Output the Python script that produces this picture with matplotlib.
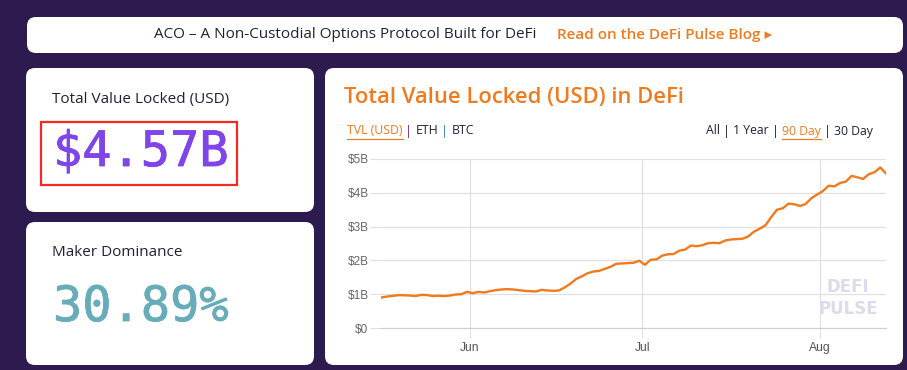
import matplotlib.pyplot as plt
import matplotlib.patheffects as pe
from matplotlib.patches import FancyBboxPatch, Rectangle
from matplotlib.lines import Line2D
from matplotlib.transforms import Affine2D
import pandas as pd

# TVL in billions USD, one point per day (90 day view)
start_date = "2020-05-16 12:00"
tvl = [0.90, 0.93, 0.95, 0.97, 0.97, 0.96, 0.945, 0.98, 0.975, 0.945,
       0.955, 0.945, 0.96, 0.99, 1.00, 1.07, 1.03, 1.07, 1.05, 1.09,
       1.12, 1.14, 1.15, 1.14, 1.12, 1.10, 1.09, 1.08, 1.13, 1.11,
       1.10, 1.11, 1.20, 1.31, 1.45, 1.53, 1.62, 1.67, 1.69, 1.75,
       1.81, 1.90, 1.91, 1.92, 1.93, 1.99, 1.87, 2.02, 2.03, 2.14,
       2.18, 2.19, 2.29, 2.32, 2.44, 2.42, 2.45, 2.51, 2.52, 2.51,
       2.59, 2.62, 2.63, 2.64, 2.71, 2.85, 2.94, 3.04, 3.28, 3.50,
       3.54, 3.68, 3.66, 3.61, 3.67, 3.84, 3.95, 4.05, 4.21, 4.19,
       4.29, 4.33, 4.50, 4.46, 4.41, 4.55, 4.61, 4.75, 4.57]
dates = pd.date_range(start_date, periods=len(tvl), freq="D")

month_ticks = pd.to_datetime(["2020-06-01", "2020-07-01", "2020-08-01"])
month_labels = ["Jun", "Jul", "Aug"]
y_ticks = [0, 1, 2, 3, 4, 5]
y_labels = ["$0", "$1B", "$2B", "$3B", "$4B", "$5B"]

tvl_value = "$4.57B"
maker_dom = "30.89%"

W, H = 907, 370
BG = "#2d1a4f"
ORANGE = "#f07a1e"
DARK = "#1e2238"
SANS = ["Open Sans", "DejaVu Sans"]

fig = plt.figure(figsize=(W / 100, H / 100), dpi=100, facecolor=BG)
# pixel coords, origin top-left
px = Affine2D().scale(1 / 100, -1 / 100).translate(0, H / 100) + fig.dpi_scale_trans


def card(x0, y0, x1, y1, r=9):
    fig.patches.append(FancyBboxPatch((x0, y0), x1 - x0, y1 - y0,
                                      boxstyle=f"round,pad=0,rounding_size={r}",
                                      transform=px, facecolor="white",
                                      edgecolor="none", zorder=-5))


def row(x, y, pieces, ha="left", size=8.8, family=SANS):
    r = fig.canvas.get_renderer()
    items = []
    for s, color, ul in pieces:
        t = fig.text(0, y, s, transform=px, color=color, fontsize=size,
                     va="center", ha="left", family=family)
        items.append((t, ul, t.get_window_extent(r).width))
    total = sum(w for _, _, w in items)
    cx = x - total if ha == "right" else x
    for t, ul, w in items:
        t.set_x(cx)
        if ul:
            fig.add_artist(Line2D([cx, cx + w], [y + 7.5, y + 7.5], transform=px,
                                  color=t.get_color(), lw=0.9))
        cx += w


# cards
card(27, 17, 903, 53)
card(26, 68, 314, 212)
card(26, 222, 314, 365)
card(325, 68, 903, 365)

# banner
fig.text(345, 35, "ACO \u2013 A Non-Custodial Options Protocol Built for DeFi",
         transform=px, ha="center", va="center", fontsize=11, color=DARK, family=SANS)
fig.text(557, 35, "Read on the DeFi Pulse Blog \u25b8", transform=px, ha="left",
         va="center", fontsize=11, color=ORANGE, fontweight="semibold", family=SANS)

# left cards
fig.text(52, 100, "Total Value Locked (USD)", transform=px, va="center",
         fontsize=11, color=DARK, family=SANS)
fig.patches.append(Rectangle((41, 122), 196, 63, transform=px, facecolor="none",
                             edgecolor="#f52a22", lw=1.6))
t1 = fig.text(53, 152, tvl_value, transform=px, va="center", fontsize=35,
              color="#7f45e8", family="DejaVu Sans Mono")
t1.set_path_effects([pe.withStroke(linewidth=0.6, foreground="#7f45e8")])

fig.text(52, 253, "Maker Dominance", transform=px, va="center",
         fontsize=11, color=DARK, family=SANS)
t2 = fig.text(53, 307, maker_dom, transform=px, va="center", fontsize=35,
              color="#67adb9", family="DejaVu Sans Mono")
t2.set_path_effects([pe.withStroke(linewidth=0.6, foreground="#67adb9")])

# chart card header
fig.text(344, 98, "Total Value Locked (USD) in DeFi", transform=px, va="center",
         fontsize=15.8, color=ORANGE, fontweight="semibold", family=SANS)
row(347, 131, [("TVL (USD)", ORANGE, True), (" | ", "#6b2a8a", False),
               ("ETH", DARK, False), (" | ", "#3a7fc0", False), ("BTC", DARK, False)])
row(873, 131, [("All", DARK, False), (" | ", DARK, False), ("1 Year", DARK, False),
               (" | ", DARK, False), ("90 Day", ORANGE, True), (" | ", DARK, False),
               ("30 Day", DARK, False)], ha="right")

# chart
ax = fig.add_axes([381 / W, 1 - 328 / H, (886 - 381) / W, (328 - 159) / H])
ax.set_facecolor("white")
ax.plot(dates, tvl, color=ORANGE, lw=1.7, solid_joinstyle="round", zorder=3)
ax.set_xlim(dates[0], dates[-1])
ax.set_ylim(0, 5)
ax.set_yticks(y_ticks)
ax.set_yticklabels(y_labels)
ax.set_xticks(month_ticks)
ax.set_xticklabels(month_labels)
ax.grid(True, color="#e0e0e0", lw=0.9)
for s in ["top", "right", "left"]:
    ax.spines[s].set_visible(False)
ax.spines["bottom"].set_color("#cfcfcf")
ax.tick_params(axis="x", length=7, color="#e0e0e0", labelsize=8.7, labelcolor="#555555", pad=3)
ax.tick_params(axis="y", length=8, color="#e0e0e0", labelsize=8.5, labelcolor="#666666", pad=1)
for lab in ax.get_xticklabels() + ax.get_yticklabels():
    lab.set_family(["Liberation Sans", "DejaVu Sans"])

# watermark
ax.text(0.925, 0.24, "DEFI", transform=ax.transAxes, ha="center", va="center",
        fontsize=12, fontweight="bold", color="#dddbe9", family="DejaVu Sans", zorder=2)
ax.text(0.925, 0.11, "PULSE", transform=ax.transAxes, ha="center", va="center",
        fontsize=12, fontweight="bold", color="#dddbe9", family="DejaVu Sans", zorder=2)

fig.savefig("out.png", dpi=100, facecolor=BG)
